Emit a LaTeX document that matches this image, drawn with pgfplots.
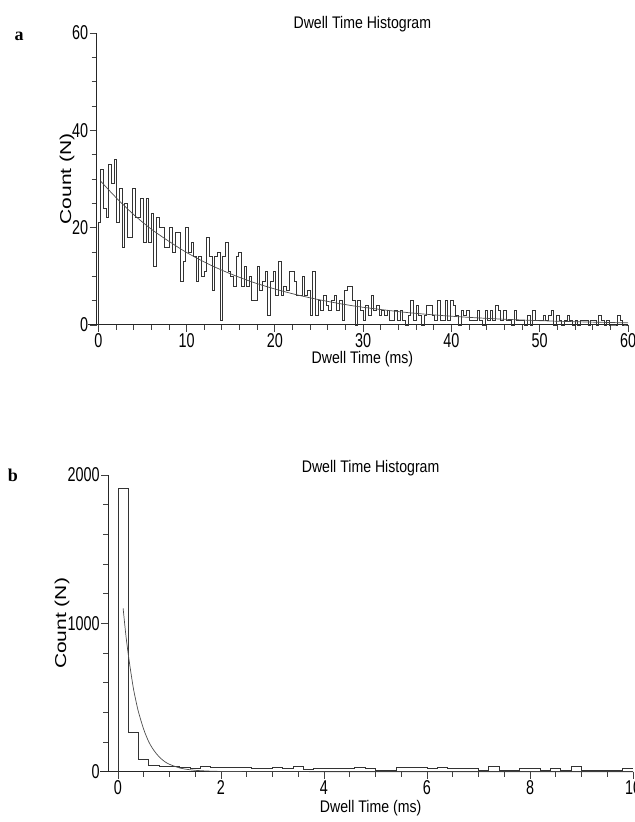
\documentclass[border=0pt]{standalone}
\usepackage{fontspec}
\setmainfont{Liberation Sans}
\newfontfamily\labfont{Liberation Sans}[FakeStretch=0.84]
\newfontfamily\tickfont{Liberation Sans}[FakeStretch=0.72]
\newfontfamily\panelfont{Liberation Serif}
\usepackage{graphicx}
\usepackage{pgfplots}
\usepackage{pgfplotstable}
\pgfplotsset{compat=1.18}

% panel a: 0.3 ms bins (left edge, count)
\pgfplotstableread[row sep=\\]{
x y\\ 0 0\\
0 21\\ 0.3 32\\ 0.6 24\\ 0.9 22\\ 1.2 33\\ 1.5 29\\ 1.8 34\\ 2.1 21\\ 2.4 28\\ 2.7 16\\
3.0 25\\ 3.3 18\\ 3.6 18\\ 3.9 28\\ 4.2 22\\ 4.5 22\\ 4.8 26\\ 5.1 17\\ 5.4 26\\ 5.7 17\\
6.0 23\\ 6.3 12\\ 6.6 22\\ 6.9 20\\ 7.2 20\\ 7.5 16\\ 7.8 16\\ 8.1 20\\ 8.4 15\\ 8.7 19\\
9.0 19\\ 9.3 9\\ 9.6 13\\ 9.9 20\\ 10.2 15\\ 10.5 17\\ 10.8 14\\ 11.1 9\\ 11.4 14\\ 11.7 10\\
12.0 11\\ 12.3 18\\ 12.6 14\\ 12.9 7\\ 13.2 14\\ 13.5 15\\ 13.8 1\\ 14.1 14\\ 14.4 17\\ 14.7 11\\
15.0 10\\ 15.3 8\\ 15.6 14\\ 15.9 15\\ 16.2 8\\ 16.5 12\\ 16.8 8\\ 17.1 10\\ 17.4 5\\ 17.7 5\\
18.0 12\\ 18.3 7\\ 18.6 9\\ 18.9 11\\ 19.2 2\\ 19.5 9\\ 19.8 11\\ 20.1 6\\ 20.4 13\\ 20.7 6\\
21.0 8\\ 21.3 7\\ 21.6 11\\ 21.9 11\\ 22.2 9\\ 22.5 6\\ 22.8 6\\ 23.1 10\\ 23.4 6\\ 23.7 7\\
24.0 2\\ 24.3 11\\ 24.6 2\\ 24.9 5\\ 25.2 3\\ 25.5 6\\ 25.8 4\\ 26.1 3\\ 26.4 5\\ 26.7 6\\
27.0 3\\ 27.3 5\\ 27.6 1\\ 27.9 7\\ 28.2 8\\ 28.5 8\\ 28.8 5\\ 29.1 0\\ 29.4 5\\ 29.7 3\\
30.0 1\\ 30.3 4\\ 30.6 2\\ 30.9 6\\ 31.2 3\\ 31.5 4\\ 31.8 2\\ 32.1 3\\ 32.4 2\\ 32.7 3\\
33.0 1\\ 33.3 1\\ 33.6 3\\ 33.9 1\\ 34.2 3\\ 34.5 1\\ 34.8 0\\ 35.1 2\\ 35.4 5\\ 35.7 1\\
36.0 4\\ 36.3 2\\ 36.6 0\\ 36.9 2\\ 37.2 4\\ 37.5 4\\ 37.8 2\\ 38.1 1\\ 38.4 5\\ 38.7 1\\
39.0 1\\ 39.3 5\\ 39.6 1\\ 39.9 5\\ 40.2 4\\ 40.5 2\\ 40.8 0\\ 41.1 3\\ 41.4 2\\ 41.7 3\\
42.0 1\\ 42.3 1\\ 42.6 1\\ 42.9 3\\ 43.2 1\\ 43.5 0\\ 43.8 3\\ 44.1 1\\ 44.4 3\\ 44.7 1\\
45.0 4\\ 45.3 3\\ 45.6 1\\ 45.9 3\\ 46.2 1\\ 46.5 1\\ 46.8 0\\ 47.1 3\\ 47.4 1\\ 47.7 1\\
48.0 1\\ 48.3 0\\ 48.6 2\\ 48.9 0\\ 49.2 3\\ 49.5 1\\ 49.8 1\\ 50.1 1\\ 50.4 2\\ 50.7 1\\
51.0 2\\ 51.3 3\\ 51.6 0\\ 51.9 2\\ 52.2 1\\ 52.5 0\\ 52.8 1\\ 53.1 2\\ 53.4 1\\ 53.7 0\\
54.0 1\\ 54.3 0\\ 54.6 1\\ 54.9 1\\ 55.2 1\\ 55.5 0\\ 55.8 1\\ 56.1 1\\ 56.4 0\\ 56.7 2\\
57.0 1\\ 57.3 0\\ 57.6 1\\ 57.9 0\\ 58.2 0\\ 58.5 0\\ 58.8 2\\ 59.1 1\\ 59.4 0\\ 59.7 0\\
60.0 0\\
}\histA

% panel b: 0.2 ms bins
\pgfplotstableread[row sep=\\]{
x y\\ 0 0\\
0 1910\\ 0.2 263\\ 0.4 83\\ 0.6 45\\ 0.8 34\\ 1.0 34\\ 1.2 27\\ 1.4 25\\ 1.6 38\\ 1.8 29\\
2.0 29\\ 2.2 29\\ 2.4 29\\ 2.6 22\\ 2.8 25\\ 3.0 29\\ 3.2 25\\ 3.4 38\\ 3.6 18\\ 3.8 22\\
4.0 22\\ 4.2 22\\ 4.4 22\\ 4.6 29\\ 4.8 22\\ 5.0 11\\ 5.2 11\\ 5.4 29\\ 5.6 29\\ 5.8 29\\
6.0 22\\ 6.2 29\\ 6.4 22\\ 6.6 22\\ 6.8 22\\ 7.0 11\\ 7.2 34\\ 7.4 11\\ 7.6 11\\ 7.8 22\\
8.0 22\\ 8.2 11\\ 8.4 22\\ 8.6 11\\ 8.8 34\\ 9.0 11\\ 9.2 6\\ 9.4 11\\ 9.6 11\\ 9.8 22\\
10.0 22\\
}\histB

\pgfplotsset{
  dwell/.style={
    scale only axis, anchor=south west,
    axis lines=left, axis line style={-, black!85, line width=0.5pt},
    tick align=outside,
    major tick length=3.5pt, minor tick length=2.5pt,
    tick style={black!75, line width=0.4pt},
    tick label style={font=\tickfont\fontsize{10}{11}\selectfont, inner sep=0.6pt},
    /pgf/number format/assume math mode=true,
    /pgf/number format/1000 sep={},
    scaled ticks=false,
    % the default title style shifts up by 6pt; shifts add up
    title style={font=\labfont\fontsize{8.4}{10}\selectfont, anchor=base, yshift=-6pt},
    xlabel style={font=\labfont\fontsize{8.4}{10}\selectfont, anchor=base},
    ylabel style={font=\fontsize{10.5}{12}\selectfont, anchor=center},
    xlabel={Dwell Time (ms)},
    ylabel={\scalebox{1}[0.75]{Count (N)}},
    title={Dwell Time Histogram},
    clip=false,
  },
  hist/.style={const plot mark left, no markers, black!80, line width=0.45pt},
  fit/.style={no markers, black!70, line width=0.35pt},
}

\begin{document}
\begin{tikzpicture}
% 1 px of the 635x822 reference = 0.5pt; y runs downward as negative
\begin{axis}[dwell,
    at={(48.35pt,-162.5pt)}, width=265.65pt, height=146pt,
    xmin=-0.18, xmax=60, ymin=0, ymax=60,
    xtick={0,10,...,60}, minor x tick num=4,
    ytick={0,20,40,60}, minor y tick num=3,
    title style={at={(axis description cs:0.5,1.016)}},
    xlabel style={at={(axis description cs:0.5,-0.131)}},
    ylabel style={at={(axis description cs:-0.056,0.5)}},
]
\draw[black!85, line width=0.5pt] (axis cs:-1.15,0) -- (axis cs:-0.18,0);
\addplot[hist] table[x=x, y=y] {\histA};
\addplot[fit, smooth] coordinates {
    (0.3,29.5)(2,26.2)(4,22.7)(6,19.7)(8,17.2)(10,14.9)(12.5,12.5)(15,10.5)
    (17.5,8.8)(20,7.4)(22.5,6.2)(25,5.2)(27.5,4.35)(30,3.64)(35,2.56)
    (40,1.80)(45,1.27)(50,0.89)(55,0.63)(60,0.44)
};
\end{axis}
\node[font=\panelfont\bfseries\fontsize{9}{10}\selectfont] at (9.5pt,-18pt) {a};

\begin{axis}[dwell,
    at={(54.1pt,-385.85pt)}, width=262.4pt, height=148.35pt,
    xmin=-0.19, xmax=10, ymin=0, ymax=2000,
    xtick={0,2,...,10}, minor x tick num=3,
    ytick={0,1000,2000}, minor y tick num=4,
    title style={at={(axis description cs:0.5,1.010)}},
    xlabel style={at={(axis description cs:0.5,-0.139)}},
    ylabel style={at={(axis description cs:-0.088,0.5)}},
]
\draw[black!85, line width=0.5pt] (axis cs:-0.35,0) -- (axis cs:-0.19,0);
\addplot[hist] table[x=x, y=y] {\histB};
\addplot[fit, smooth] coordinates {
    (0.1,1101)(0.15,930)(0.2,790)(0.25,670)(0.3,560)(0.35,475)(0.4,400)
    (0.5,285)(0.6,200)(0.7,142)(0.8,100)(0.9,70)(1.0,50)(1.2,25)(1.4,13)
    (1.6,7)(2.0,2)(3.0,0.5)(10,0)
};
\end{axis}
\node[font=\panelfont\bfseries\fontsize{9}{10}\selectfont] at (6.5pt,-237.5pt) {b};

\pgfresetboundingbox
\useasboundingbox (0,0) rectangle (317.5pt,-411pt);
\end{tikzpicture}
\end{document}
